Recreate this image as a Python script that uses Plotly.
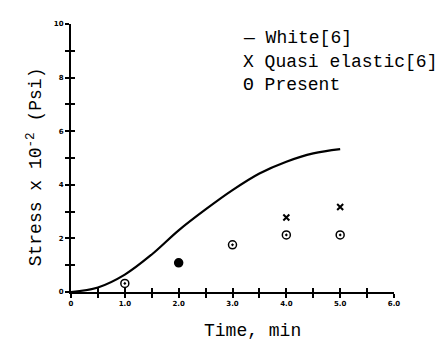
import plotly.graph_objects as go

# Data
white_t = [0, 0.5, 1.0, 1.5, 2.0, 2.5, 3.0, 3.5, 4.0, 4.5, 5.0]
white_s = [0, 0.17, 0.65, 1.4, 2.3, 3.08, 3.8, 4.42, 4.86, 5.17, 5.33]
quasi_t = [4.0, 5.0]
quasi_s = [2.78, 3.17]
present_t = [1.0, 2.0, 3.0, 4.0, 5.0]
present_s = [0.32, 1.09, 1.76, 2.13, 2.13]
present_sym = ["circle-dot", "circle", "circle-dot", "circle-dot", "circle-dot"]
present_fill = ["white", "black", "white", "white", "white"]

x_tickvals = [0, 1, 2, 3, 4, 5, 6]
x_ticktext = ["0", "1.0", "2.0", "3.0", "4.0", "5.0", "6.0"]
y_tickvals = [0, 2, 4, 6, 8, 10]
y_ticktext = ["0", "2", "4", "6", "8", "10"]

legend_lines = ["\u2014 White[6]", "X Quasi elastic[6]", "\u0398 Present"]

mono = "Liberation Mono"

fig = go.Figure()
fig.add_trace(go.Scatter(x=white_t, y=white_s, mode="lines",
                         line=dict(color="black", width=2.2, shape="spline"),
                         showlegend=False))
fig.add_trace(go.Scatter(x=quasi_t, y=quasi_s, mode="markers",
                         marker=dict(symbol="x-thin", size=6, color="black",
                                     line=dict(width=2, color="black")),
                         showlegend=False))
fig.add_trace(go.Scatter(x=present_t, y=present_s, mode="markers",
                         marker=dict(symbol=present_sym, size=8, color=present_fill,
                                     line=dict(width=1.5, color="black")),
                         showlegend=False))
# secondary axes for crossing ticks
fig.add_trace(go.Scatter(x=[None], y=[None], xaxis="x2", yaxis="y2", showlegend=False))

tickfont = dict(family="DejaVu Sans", size=7, color="black", weight="bold")
tick_common = dict(ticklen=4, tickwidth=1.5, tickcolor="black")

fig.update_layout(
    width=448, height=343,
    margin=dict(l=63, r=62, t=14, b=59),
    paper_bgcolor="white", plot_bgcolor="white",
    font=dict(family=mono, color="black"),
    xaxis=dict(range=[0, 6], tickvals=x_tickvals, ticktext=x_ticktext,
               ticks="outside", **tick_common,
               minor=dict(dtick=0.5, tick0=0, ticks="outside", **tick_common),
               showline=True, linewidth=2, linecolor="black",
               showgrid=False, zeroline=False, tickfont=tickfont),
    yaxis=dict(range=[0, 10], tickvals=y_tickvals, ticktext=y_ticktext,
               ticks="outside", **tick_common,
               minor=dict(dtick=1, tick0=0, ticks="outside", **tick_common),
               showline=True, linewidth=2, linecolor="black",
               showgrid=False, zeroline=False, tickfont=tickfont),
    xaxis2=dict(range=[0, 6], overlaying="x", dtick=0.5, tick0=0,
                ticks="inside", **tick_common,
                showticklabels=False, showgrid=False, zeroline=False,
                side="bottom", anchor="y"),
    yaxis2=dict(range=[0, 10], overlaying="y", dtick=1, tick0=0,
                ticks="inside", **tick_common,
                showticklabels=False, showgrid=False, zeroline=False,
                side="left", anchor="x"),
    showlegend=False,
)

annotations = []
legend_y = [0.948, 0.860, 0.772]
for t, yy in zip(legend_lines, legend_y):
    annotations.append(dict(text=t, x=0.526, y=yy, xref="paper", yref="paper",
                            xanchor="left", yanchor="middle", showarrow=False,
                            font=dict(family=mono, size=18, color="black")))
annotations.append(dict(text="Time, min", x=0.563, y=-0.145, xref="paper", yref="paper",
                        xanchor="center", yanchor="middle", showarrow=False,
                        font=dict(family=mono, size=18, color="black")))
annotations.append(dict(text="Stress x 10<sup>-2</sup> (Psi)", x=-0.11, y=0.467,
                        xref="paper", yref="paper", textangle=-90,
                        xanchor="center", yanchor="middle", showarrow=False,
                        font=dict(family=mono, size=18, color="black")))
fig.update_layout(annotations=annotations)

fig.write_html("out.html")
